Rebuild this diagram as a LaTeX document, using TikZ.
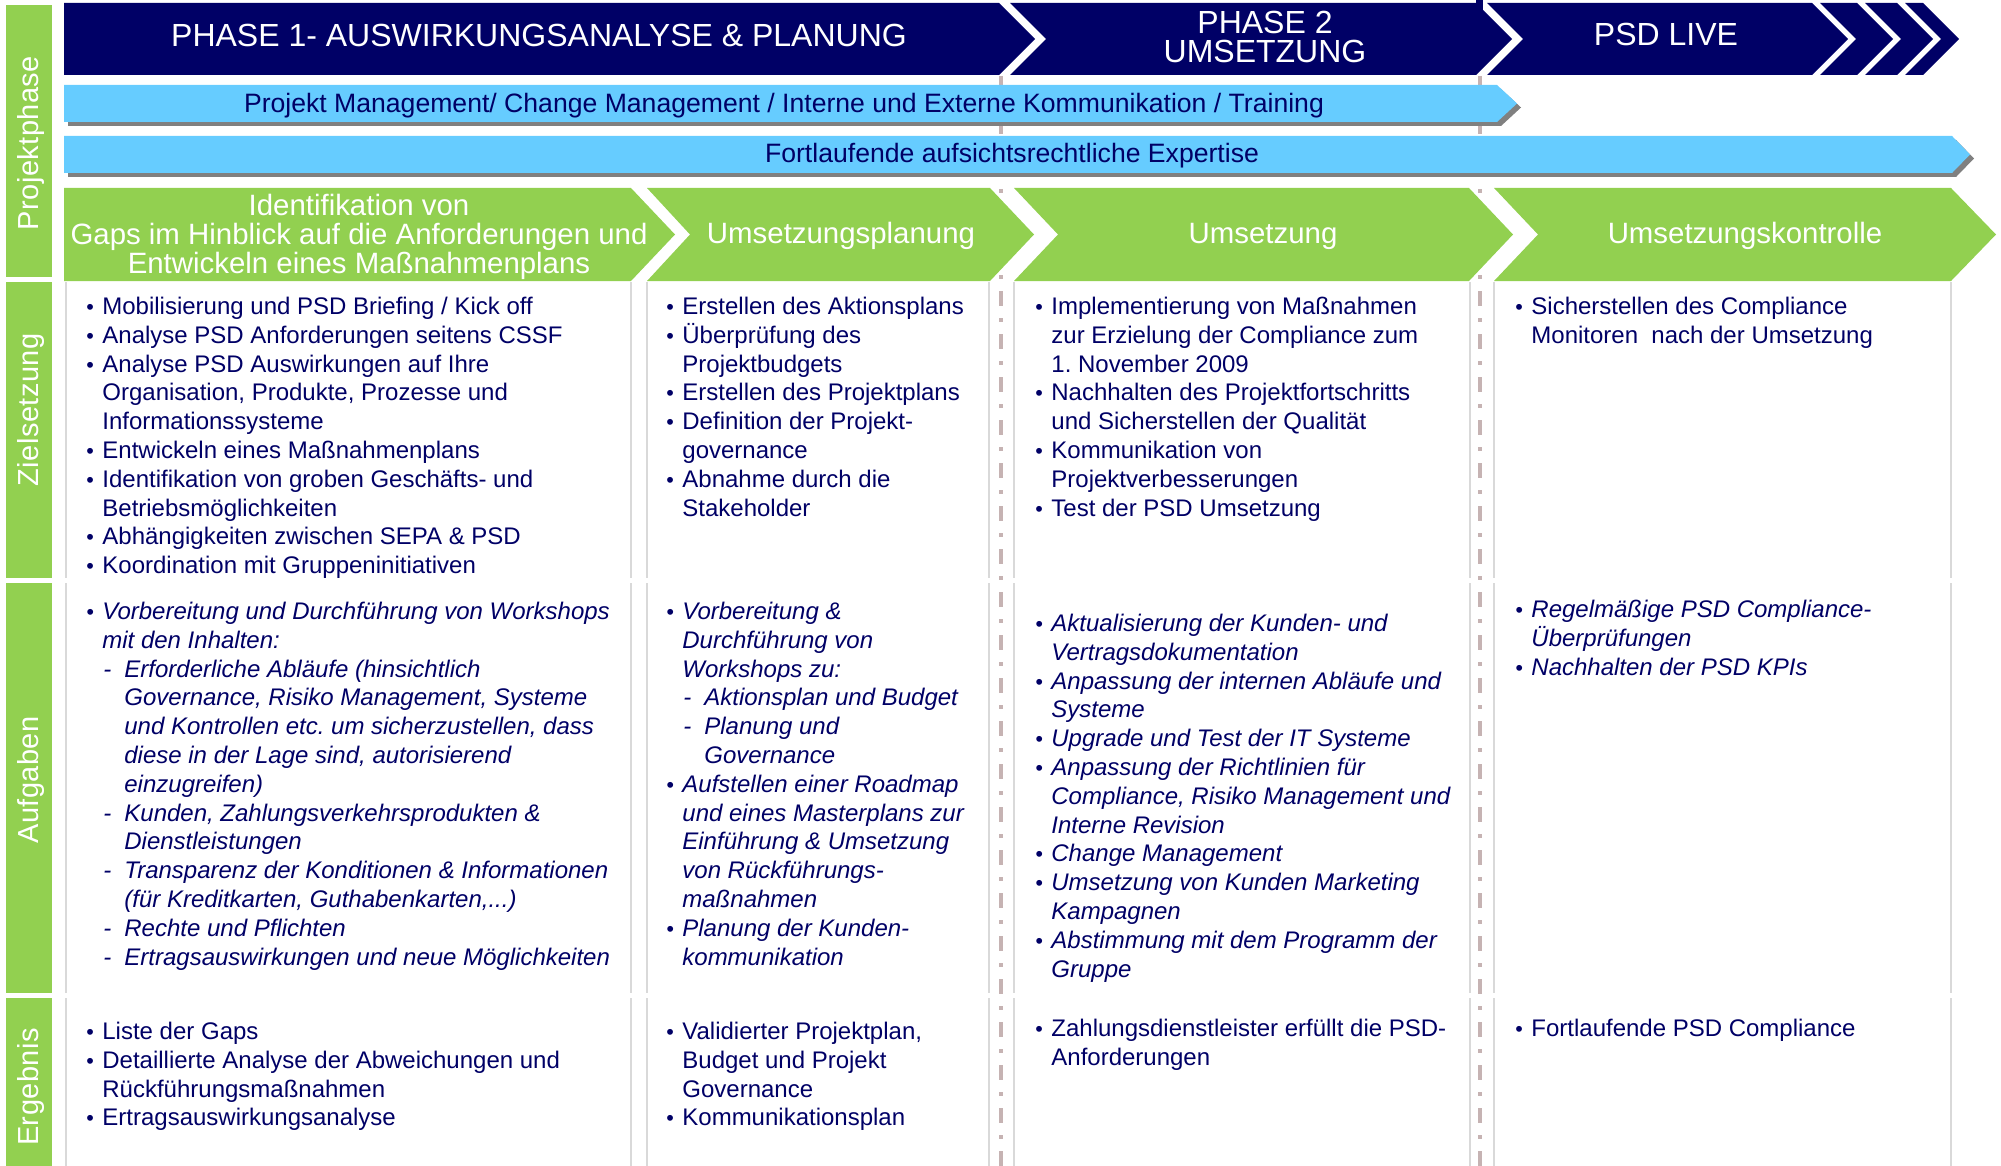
\documentclass[tikz,border=0pt]{standalone}
\usepackage{fontspec}
\setmainfont{Liberation Sans}
\frenchspacing
\definecolor{psdnavy}{HTML}{000066}
\definecolor{psdblue}{HTML}{66CCFF}
\definecolor{psdgreen}{HTML}{92D050}
\definecolor{shadowgrey}{HTML}{808080}
\definecolor{cellgrey}{HTML}{D9D9D9}
\definecolor{dashgrey}{HTML}{C6B3B3}
% bullet, continuation, dash item, dash continuation
\newcommand{\bul}{\strut\makebox[8pt][l]{\scalebox{0.9}{\textbullet}}}
\newcommand{\cnt}{\strut\hspace*{8pt}}
\newcommand{\dsh}{\strut\hspace*{8pt}\makebox[11pt][l]{\hspace*{0.5pt}-}}
\newcommand{\dcnt}{\strut\hspace*{19pt}}
\begin{document}
\begin{tikzpicture}[x=0.5pt, y=-0.5pt, phase_style/.style={fill=psdnavy}, bar_style/.style={fill=psdblue}, shadow_style/.style={fill=shadowgrey}, step_style/.style={fill=psdgreen}, side_style/.style={fill=psdgreen}, cell_style/.style={draw=cellgrey, line width=1.3pt}, sep_style/.style={draw=dashgrey, line width=1.8pt, dash pattern=on 7.5pt off 6pt on 2pt off 6pt}, title_style/.style={text=white, font=\fontsize{16}{14.5}\selectfont, align=center, inner sep=0}, bartext_style/.style={text=psdnavy, font=\fontsize{13.3}{15}\selectfont, inner sep=0, anchor=base}, steptext_style/.style={text=white, font=\fontsize{14.7}{14.5}\selectfont, align=center, inner sep=0}, label_style/.style={text=white, font=\fontsize{14.5}{16}\selectfont\addfontfeature{LetterSpace=1.5}, rotate=90, inner sep=0, anchor=base}, text_style/.style={text=psdnavy, font=\fontsize{12}{14.4}\selectfont, align=left, inner sep=0, anchor=north west}, task_style/.style={text_style, font=\fontsize{12}{14.4}\selectfont\itshape}]
      \useasboundingbox (0,0) rectangle (2001,1166);
      % phase separators
      \draw[sep_style] (1001,76) -- (1001,1166);
      \draw[sep_style] (1480,76) -- (1480,1166);
      \fill[psdnavy] (1476,0) rectangle (1483,14);
      % sidebar
      \fill[side_style] (6,5) rectangle (52,277);
      \fill[side_style] (6,282) rectangle (52,578);
      \fill[side_style] (6,583) rectangle (52,993);
      \fill[side_style] (6,998) rectangle (52,1166);
      \node[label_style] (lab_phase) at (38,143) {Projektphase};
      \node[label_style] (lab_ziel) at (38,410) {Zielsetzung};
      \node[label_style] (lab_aufg) at (38,780) {Aufgaben};
      \node[label_style] (lab_erg) at (38,1087) {Ergebnis};
      % phases
      \fill[phase_style] (64,3) -- (999,3) -- (1035,39) -- (999,75) -- (64,75) -- cycle;
      \fill[phase_style] (1010,3) -- (1476,3) -- (1512,39) -- (1476,75) -- (1010,75) -- (1046,39) -- cycle;
      \fill[phase_style] (1487,3) -- (1812,3) -- (1848,39) -- (1812,75) -- (1487,75) -- (1523,39) -- cycle;
      \fill[phase_style] (1820,3) -- (1857,3) -- (1893,39) -- (1857,75) -- (1820,75) -- (1856,39) -- cycle;
      \fill[phase_style] (1865,3) -- (1897,3) -- (1933,39) -- (1897,75) -- (1865,75) -- (1901,39) -- cycle;
      \fill[phase_style] (1905,3) -- (1923,3) -- (1959,39) -- (1923,75) -- (1905,75) -- (1941,39) -- cycle;
      \node[title_style, anchor=base] (phase1) at (539,47) {PHASE 1- AUSWIRKUNGSANALYSE \& PLANUNG};
      \node[title_style] (phase2) at (1265,37) {PHASE 2\\UMSETZUNG};
      \node[title_style, anchor=base] (live) at (1666,46) {PSD LIVE};
      % blue bars
      \fill[shadow_style] (68,89) -- (1501,89) -- (1521,107.5) -- (1501,126) -- (68,126) -- cycle;
      \fill[bar_style] (64,85) -- (1497,85) -- (1517,103.5) -- (1497,122) -- (64,122) -- cycle;
      \fill[shadow_style] (68,140) -- (1956,140) -- (1974,158.5) -- (1956,177) -- (68,177) -- cycle;
      \fill[bar_style] (64,136) -- (1952,136) -- (1970,154.5) -- (1952,173) -- (64,173) -- cycle;
      \node[bartext_style] (pm) at (784,113) {Projekt Management/ Change Management / Interne und Externe Kommunikation / Training};
      \node[bartext_style] (exp) at (1012,163) {Fortlaufende aufsichtsrechtliche Expertise};
      % steps
      \fill[step_style] (64,188) -- (631,188) -- (675,234.5) -- (631,281) -- (64,281) -- cycle;
      \fill[step_style] (647,188) -- (990,188) -- (1034,234.5) -- (990,281) -- (647,281) -- (690,234.5) -- cycle;
      \fill[step_style] (1014,188) -- (1469,188) -- (1513,234.5) -- (1469,281) -- (1014,281) -- (1058,234.5) -- cycle;
      \fill[step_style] (1494,188) -- (1951,188) -- (1996,234.5) -- (1951,281) -- (1494,281) -- (1538,234.5) -- cycle;
      \node[steptext_style] (gaps) at (359,237) {Identifikation von\\Gaps im Hinblick auf die Anforderungen und\\Entwickeln eines Maßnahmenplans};
      \node[steptext_style, anchor=base] (plan) at (841,243) {Umsetzungsplanung};
      \node[steptext_style, anchor=base] (ums) at (1263,243) {Umsetzung};
      \node[steptext_style, anchor=base] (kontr) at (1745,243) {Umsetzungskontrolle};
      % cells
      \draw[cell_style] (66,282) -- (66,578) (631,282) -- (631,578) (647,282) -- (647,578) (989,282) -- (989,578);
      \draw[cell_style] (1014,282) -- (1014,578) (1470,282) -- (1470,578) (1494,282) -- (1494,578) (1951,282) -- (1951,578);
      \draw[cell_style] (66,583) -- (66,993) (631,583) -- (631,993) (647,583) -- (647,993) (989,583) -- (989,993);
      \draw[cell_style] (1014,583) -- (1014,993) (1470,583) -- (1470,993) (1494,583) -- (1494,993) (1951,583) -- (1951,993);
      \draw[cell_style] (66,998) -- (66,1166) (631,998) -- (631,1166) (647,998) -- (647,1166) (989,998) -- (989,1166);
      \draw[cell_style] (1014,998) -- (1014,1166) (1470,998) -- (1470,1166) (1494,998) -- (1494,1166) (1951,998) -- (1951,1166);
      % Zielsetzung
      \node[text_style] (ziel_a) at (86,294) {\bul Mobilisierung und PSD Briefing / Kick off\\\bul Analyse PSD Anforderungen seitens CSSF\\\bul Analyse PSD Auswirkungen auf Ihre\\\cnt Organisation, Produkte, Prozesse und\\\cnt Informationssysteme\\\bul Entwickeln eines Maßnahmenplans\\\bul Identifikation von groben Geschäfts- und\\\cnt Betriebsmöglichkeiten\\\bul Abhängigkeiten zwischen SEPA \& PSD\\\bul Koordination mit Gruppeninitiativen};
      \node[text_style] (ziel_b) at (666,294) {\bul Erstellen des Aktionsplans\\\bul Überprüfung des\\\cnt Projektbudgets\\\bul Erstellen des Projektplans\\\bul Definition der Projekt-\\\cnt governance\\\bul Abnahme durch die\\\cnt Stakeholder};
      \node[text_style] (ziel_c) at (1035,294) {\bul Implementierung von Maßnahmen\\\cnt zur Erzielung der Compliance zum\\\cnt 1. November 2009\\\bul Nachhalten des Projektfortschritts\\\cnt und Sicherstellen der Qualität\\\bul Kommunikation von\\\cnt Projektverbesserungen\\\bul Test der PSD Umsetzung};
      \node[text_style] (ziel_d) at (1515,294) {\bul Sicherstellen des Compliance\\\cnt Monitoren\ \ nach der Umsetzung};
      % Aufgaben
      \node[task_style] (aufg_a) at (86,599) {\bul Vorbereitung und Durchführung von Workshops\\\cnt mit den Inhalten:\\\dsh Erforderliche Abläufe (hinsichtlich\\\dcnt Governance, Risiko Management, Systeme\\\dcnt und Kontrollen etc. um sicherzustellen, dass\\\dcnt diese in der Lage sind, autorisierend\\\dcnt einzugreifen)\\\dsh Kunden, Zahlungsverkehrsprodukten \&\\\dcnt Dienstleistungen\\\dsh Transparenz der Konditionen \& Informationen\\\dcnt (für Kreditkarten, Guthabenkarten,...)\\\dsh Rechte und Pflichten\\\dsh Ertragsauswirkungen und neue Möglichkeiten};
      \node[task_style] (aufg_b) at (666,599) {\bul Vorbereitung \&\\\cnt Durchführung von\\\cnt Workshops zu:\\\dsh Aktionsplan und Budget\\\dsh Planung und\\\dcnt Governance\\\bul Aufstellen einer Roadmap\\\cnt und eines Masterplans zur\\\cnt Einführung \& Umsetzung\\\cnt von Rückführungs-\\\cnt maßnahmen\\\bul Planung der Kunden-\\\cnt kommunikation};
      \node[task_style] (aufg_c) at (1035,611) {\bul Aktualisierung der Kunden- und\\\cnt Vertragsdokumentation\\\bul Anpassung der internen Abläufe und\\\cnt Systeme\\\bul Upgrade und Test der IT Systeme\\\bul Anpassung der Richtlinien für\\\cnt Compliance, Risiko Management und\\\cnt Interne Revision\\\bul Change Management\\\bul Umsetzung von Kunden Marketing\\\cnt Kampagnen\\\bul Abstimmung mit dem Programm der\\\cnt Gruppe};
      \node[task_style] (aufg_d) at (1515,597) {\bul Regelmäßige PSD Compliance-\\\cnt Überprüfungen\\\bul Nachhalten der PSD KPIs};
      % Ergebnis
      \node[text_style] (erg_a) at (86,1019) {\bul Liste der Gaps\\\bul Detaillierte Analyse der Abweichungen und\\\cnt Rückführungsmaßnahmen\\\bul Ertragsauswirkungsanalyse};
      \node[text_style] (erg_b) at (666,1019) {\bul Validierter Projektplan,\\\cnt Budget und Projekt\\\cnt Governance\\\bul Kommunikationsplan};
      \node[text_style] (erg_c) at (1035,1016) {\bul Zahlungsdienstleister erfüllt die PSD-\\\cnt Anforderungen};
      \node[text_style] (erg_d) at (1515,1016) {\bul Fortlaufende PSD Compliance};
    \end{tikzpicture}
\end{document}
